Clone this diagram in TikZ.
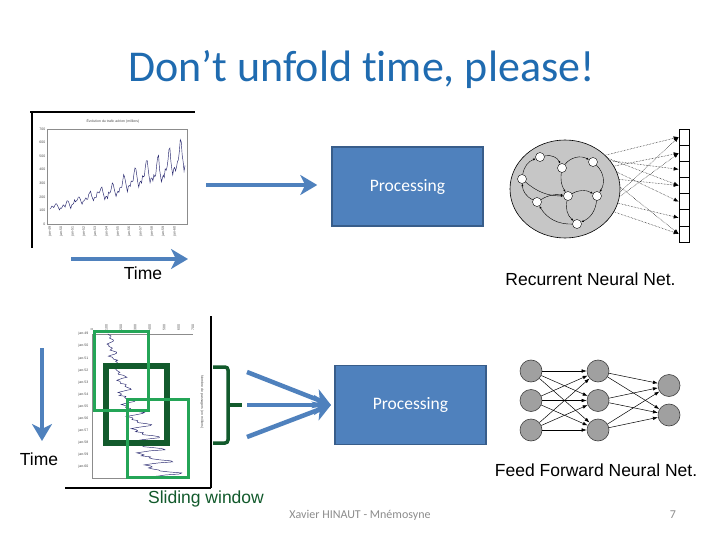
\documentclass[tikz,border=0pt]{standalone}
\usepackage{fontspec}
\setmainfont{Carlito}[RawFeature={-liga}]
\newfontfamily\arialfont{Liberation Sans}
\usetikzlibrary{arrows.meta, positioning, shapes.geometric}
\definecolor{procblue}{HTML}{4F81BD}
\definecolor{procedge}{HTML}{385D8A}
\definecolor{titleblue}{HTML}{1F6BB0}
\definecolor{winlight}{HTML}{24A557}
\definecolor{windark}{HTML}{125A2C}
\definecolor{footgray}{HTML}{8C8C8C}
\definecolor{nodegray}{HTML}{A0A0A0}
\definecolor{rnngray}{HTML}{C6C6C6}
\definecolor{series}{HTML}{26266E}

% monthly passengers, 1949-1960
\def\airdata{112,118,132,129,121,135,148,148,136,119,104,118,115,126,141,135,125,149,170,170,158,133,114,140,145,150,178,163,172,178,199,199,184,162,146,166,171,180,193,181,183,218,230,242,209,191,172,194,196,196,236,235,229,243,264,272,237,211,180,201,204,188,235,227,234,264,302,293,259,229,203,229,242,233,267,269,270,315,364,347,312,274,237,278,284,277,317,313,318,374,413,405,355,306,271,306,315,301,356,348,355,422,465,467,404,347,305,336,340,318,362,348,363,435,491,505,404,359,310,337,360,342,406,396,420,472,548,559,463,407,362,405,417,391,419,461,472,535,622,606,508,461,390,432}

\begin{document}
\begin{tikzpicture}[x=1pt, y=-1pt,
    bigar/.style={-{Stealth[length=17pt, width=20pt, inset=5pt]}, line width=4.5pt, procblue},
    proc/.style={draw=procedge, line width=1.5pt, fill=procblue, text=white,
                 minimum width=151pt, minimum height=79pt, font=\fontsize{17.5}{20}\selectfont},
    lbl/.style={font=\arialfont\fontsize{17.5}{20}\selectfont},
    chartlbl/.style={font=\arialfont\fontsize{3.5}{4}\selectfont, text=black!70, inner sep=0.5pt},
    neuron/.style={circle, draw=black!75, fill=nodegray, minimum size=22pt, inner sep=0pt, line width=0.6pt},
    rnnunit/.style={circle, draw=black, fill=white, minimum size=9pt, inner sep=0pt, line width=0.4pt},
    cell/.style={draw=black, fill=white, minimum width=10pt, minimum height=16.14pt, inner sep=0pt, line width=0.6pt},
    ffar/.style={-{Latex[length=5pt, width=3.5pt]}, line width=0.5pt},
    recar/.style={-{Latex[length=2.5pt, width=2pt]}, line width=0.4pt},
    outar/.style={-{Latex[length=5pt, width=4pt]}, densely dotted, line width=0.5pt},
    win/.style={draw=winlight, line width=3pt},
    axisline/.style={draw=black!45, line width=0.4pt},
  ]
  \useasboundingbox[fill=white] (0,0) rectangle (720,540);

  \node[font=\fontsize{44}{48}\selectfont, text=titleblue, anchor=base] (title) at (361.5,82) {Don’t unfold time, please!};

  % top chart
  \draw[line width=1.2pt] (30,112) -- (195,112);
  \draw[line width=1.2pt] (32,112) -- (32,248);
  \draw[axisline] (47,129) rectangle (187,224);
  \node[chartlbl] (ctitle) at (113,121) {Évolution du trafic aérien (milliers)};
  \foreach \k in {0,...,7}
    \node[chartlbl, anchor=east] at (46,{224-\k*95/7}) {\pgfmathparse{int(\k*100)}\pgfmathresult};
  \foreach \k [count=\j from 0] in {49,...,60}
    \node[chartlbl, rotate=90, anchor=east] at ({50+\j*11.3287},226) {jan-\k};
  \draw[series, line width=0.45pt] (50,208.8) \foreach \v [count=\i] in \airdata {-- ({50+(\i-1)*0.9441},{224-\v*0.13571})};

  \coordinate (tstart) at (71,259);
  \coordinate (tend) at (188,259);
  \draw[bigar] (tstart) -- (tend);
  \node[lbl] (ttop) at (143,273) {Time};

  \node[proc] (proc1) at (407.5,186.5) {Processing};
  \coordinate (astart) at (206,185);
  \draw[bigar, shorten >=14pt] (astart) -- (astart -| proc1.west);

  % recurrent net
  \node[ellipse, draw=black, fill=rnngray, minimum width=110pt, minimum height=98pt, line width=0.6pt] (rnn) at (565,189) {};
  \foreach \p [count=\n] in {(540,157),(562,168),(593,162),(522,179),(568,196),(597,196),(537,202),(577,224)}
    \node[rnnunit] (ru\n) at \p {};
  \draw[recar] (ru4) to[bend left=30] (ru1);
  \draw[recar] (ru1) to[bend left=40] (ru2);
  \draw[recar] (ru2) to[bend left=40] (ru3);
  \draw[recar] (ru3) to[bend left=40] (ru6);
  \draw[recar] (ru6) to[bend left=30] (ru8);
  \draw[recar] (ru8) to[bend left=30] (ru7);
  \draw[recar] (ru7) to[bend left=30] (ru4);
  \draw[recar] (ru2) to[bend right=20] (ru5);
  \draw[recar] (ru5) to[bend right=30] (ru8);
  \draw[recar] (ru4) to[bend right=20] (ru5);
  \draw[recar] (ru7) to[bend left=20] (ru5);
  \draw[recar] (ru5) to[bend left=30] (ru6);
  \foreach \k in {1,...,7}
    \node[cell] (out\k) at (684,{129+(\k-0.5)*16.14}) {};
  \foreach \a/\k in {40/1, 32/3, 25/2, 18/5, 10/4, 2/7, -8/2, -15/6, -25/7, 35/4, -3/1}
    \draw[outar] (rnn.\a) -- (out\k.west);
  \node[lbl] (rnnlbl) at (590.5,279) {Recurrent Neural Net.};

  % bottom chart (time downwards)
  \draw[line width=1.2pt] (211,316) -- (211,488);
  \draw[line width=1.2pt] (65,488) -- (211,488);
  \draw[axisline] (92,334) -- (193,334);
  \draw[axisline] (92,334) -- (92,478) -- (187,478);
  \foreach \k in {0,...,7}
    \node[chartlbl, rotate=90, anchor=west] at ({92+\k*101/7},331) {\pgfmathparse{int(\k*100)}\pgfmathresult};
  \foreach \k [count=\j from 0] in {49,...,60}
    \node[chartlbl, anchor=east] at (89,{334+\j*12.0839}) {jan-\k};
  \node[chartlbl, rotate=-90] (vtitle) at (202,402) {Nombre de passagers (en milliers)};
  \draw[series, line width=0.45pt] (108.2,334) \foreach \v [count=\i] in \airdata {-- ({92+\v*0.14429},{334+(\i-1)*1.007})};

  % sliding windows
  \draw[draw=windark, line width=6pt] (106,366) rectangle (167,443);
  \draw[win] (94.5,331.5) rectangle (148.5,410.5);
  \draw[win] (127.5,399.5) rectangle (188.5,477.5);
  \draw[windark, line width=3.5pt, rounded corners=3pt] (213,367) -- (228,367) -- (228,443) -- (213,443);
  \draw[windark, line width=3.5pt] (228,405) -- (242,405);
  \node[lbl, text=windark] (slide) at (206,499) {Sliding window};

  \coordinate (dstart) at (42,348);
  \coordinate (dend) at (42,441);
  \draw[bigar] (dstart) -- (dend);
  \node[lbl] (tbot) at (39,459) {Time};

  \node[proc] (proc2) at (410.5,405) {Processing};
  \coordinate (src1) at (247,372);
  \coordinate (src2) at (247,405);
  \coordinate (src3) at (247,437);
  \coordinate (hub) at (331,405);
  \draw[bigar] (src1) -- (hub);
  \draw[bigar] (src3) -- (hub);
  \draw[bigar] (src2) -- (hub);

  % feed forward net
  \foreach \y [count=\n] in {371,400.5,430} {
    \node[neuron] (fi\n) at (531,\y) {};
    \node[neuron] (fh\n) at (598,\y) {};
  }
  \node[neuron] (fo1) at (669,385.5) {};
  \node[neuron] (fo2) at (669,415) {};
  \foreach \i in {1,2,3} {
    \foreach \j in {1,2,3} \draw[ffar] (fi\i) -- (fh\j);
    \foreach \j in {1,2} \draw[ffar] (fh\i) -- (fo\j);
  }
  \node[lbl] (fflbl) at (596,470) {Feed Forward Neural Net.};

  \node[font=\fontsize{12}{14}\selectfont, text=footgray] (foot) at (360,515) {Xavier HINAUT - Mnémosyne};
  \node[font=\fontsize{12}{14}\selectfont, text=footgray] (page) at (673,515) {7};
\end{tikzpicture}
\end{document}
